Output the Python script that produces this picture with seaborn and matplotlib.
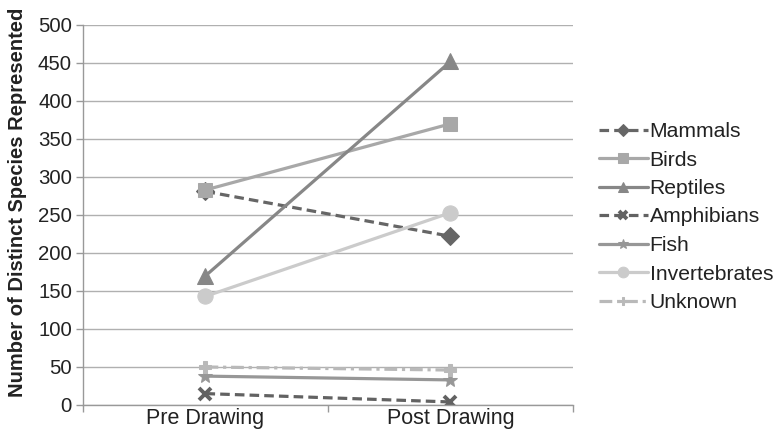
import matplotlib
matplotlib.use("Agg")
import matplotlib.pyplot as plt
from matplotlib.ticker import FixedLocator
import seaborn as sns
import pandas as pd

phases = ["Pre Drawing", "Post Drawing"]
groups = ["Mammals", "Birds", "Reptiles", "Amphibians", "Fish", "Invertebrates", "Unknown"]
mammals = [281, 222]
birds = [283, 370]
reptiles = [170, 452]
amphibians = [15, 4]
fish = [38, 33]
invertebrates = [143, 253]
unknown = [50, 46]
y_ticks = list(range(0, 501, 50))

series = [mammals, birds, reptiles, amphibians, fish, invertebrates, unknown]
colors = ["#666666", "#a8a8a8", "#878787", "#626262", "#979797", "#cbcbcb", "#b9b9b9"]
markers = ["D", "s", "^", "x", "*", "o", "P"]
dashes = [(3, 1.6), "", "", (3, 1.6), "", "", (4, 1.5, 1, 1.5)]
msizes = [9, 10, 11, 9, 11, 11, 9]

sns.set_theme(style="white")
plt.rcParams["font.family"] = ["Liberation Sans", "DejaVu Sans"]

fig = plt.figure(figsize=(7.75, 4.34), dpi=100)
ax = fig.add_axes([83 / 775, 29 / 434, 490 / 775, 380 / 434])

rows = []
for g, vals in zip(groups, series):
    for p, v in zip(phases, vals):
        rows.append({"phase": p, "group": g, "count": v})
df = pd.DataFrame(rows)

# one seaborn line per group so each keeps its own colour, marker and dash pattern
for g, c, m, d, ms in zip(groups, colors, markers, dashes, msizes):
    sub = df[df["group"] == g]
    kw = dict(linewidth=2.3, marker=m, markersize=ms, color=c,
              markeredgecolor=c, markerfacecolor=c, label=g)
    if m == "x":
        kw["markeredgewidth"] = 2.8
    sns.lineplot(data=sub, x="phase", y="count", ax=ax, sort=False, **kw)
    if d:
        ax.lines[-1].set_dashes(d)

ax.set_xlim(-0.5, 1.5)
ax.set_ylim(0, 500)
ax.set_xticks([0, 1])
ax.set_xticklabels(phases, fontsize=15.5, color="#222222")
ax.xaxis.set_minor_locator(FixedLocator([-0.5, 0.5, 1.5]))
ax.tick_params(axis="x", which="major", length=0, pad=2)
ax.tick_params(axis="x", which="minor", length=5, width=1, color="#999999",
               direction="out", bottom=True)
ax.set_yticks(y_ticks)
ax.set_yticklabels([str(t) for t in y_ticks], fontsize=14.7, color="#222222")
ax.tick_params(axis="y", length=5, width=1, color="#999999", direction="out", pad=3, left=True)
ax.yaxis.grid(True, color="#b0b0b0", linewidth=1)
ax.set_axisbelow(True)
ax.set_xlabel("")
ax.set_ylabel("Number of Distinct Species Represented", fontsize=14.5, fontweight="bold",
              color="#222222")
ax.yaxis.set_label_coords(-0.114, 0.533)
for side in ["top", "right"]:
    ax.spines[side].set_visible(False)
for side in ["left", "bottom"]:
    ax.spines[side].set_color("#999999")
    ax.spines[side].set_linewidth(1)

handles = [h for h in ax.lines if h.get_label() in groups]
if ax.get_legend() is not None:
    ax.get_legend().remove()
leg = fig.legend(handles=handles, labels=groups, loc="center left",
                 bbox_to_anchor=(599 / 775, 1 - 217 / 434), frameon=False,
                 fontsize=15.2, handlelength=2.3, handletextpad=0.1,
                 labelspacing=0.45, markerscale=0.7, borderpad=0, borderaxespad=0)
for t in leg.get_texts():
    t.set_color("#222222")

fig.savefig("out.png", dpi=100)
